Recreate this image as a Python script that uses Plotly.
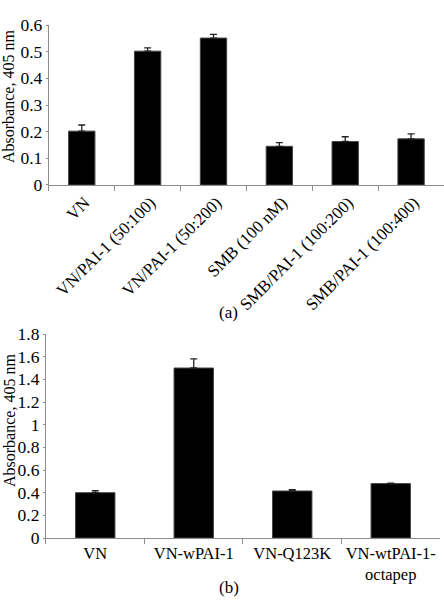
import plotly.graph_objects as go

cats_a = ["VN", "VN/PAI-1 (50:100)", "VN/PAI-1 (50:200)", "SMB (100 nM)",
          "SMB/PAI-1 (100:200)", "SMB/PAI-1 (100:400)"]
vals_a = [0.202, 0.502, 0.551, 0.145, 0.163, 0.173]
err_a = [0.023, 0.012, 0.014, 0.014, 0.018, 0.019]

cats_b = ["VN", "VN-wPAI-1", "VN-Q123K", "VN-wtPAI-1-<br>octapep"]
vals_b = [0.40, 1.50, 0.415, 0.48]
err_b = [0.017, 0.08, 0.012, 0.005]

yticks_a = [0, 0.1, 0.2, 0.3, 0.4, 0.5, 0.6]
yticks_b = [0, 0.2, 0.4, 0.6, 0.8, 1, 1.2, 1.4, 1.6, 1.8]

FONT = "Liberation Serif"
AX = "#8c8c8c"
YTITLE = "Absorbance, 405 nm"

fig = go.Figure()
fig.add_trace(go.Bar(x=cats_a, y=vals_a, xaxis="x", yaxis="y",
                     marker=dict(color="black", line=dict(color="#444", width=1)),
                     error_y=dict(type="data", array=err_a, symmetric=False, arrayminus=[0]*6,
                                  color="#222", thickness=1.3, width=3.5),
                     showlegend=False))
fig.add_trace(go.Bar(x=cats_b, y=vals_b, xaxis="x2", yaxis="y2",
                     marker=dict(color="black", line=dict(color="#444", width=1)),
                     error_y=dict(type="data", array=err_b, symmetric=False, arrayminus=[0]*4,
                                  color="#222", thickness=1.3, width=3.5),
                     showlegend=False))

common_x = dict(showline=True, linecolor=AX, linewidth=1, ticks="outside", tickson="boundaries",
                tickcolor=AX, ticklen=5, showgrid=False, automargin=False)
common_y = dict(showline=True, linecolor=AX, linewidth=1, ticks="outside", tickcolor=AX, ticklen=2,
                showgrid=False, zeroline=False, automargin=False,
                tickfont=dict(family=FONT, size=17.5, color="black"))

ann_font = dict(family=FONT, size=17, color="black")
fig.update_layout(
    width=444, height=600,
    margin=dict(l=0, r=0, t=0, b=0, autoexpand=False),
    paper_bgcolor="white", plot_bgcolor="white",
    bargap=0.6,
    xaxis=dict(domain=[0.110, 1.0], anchor="y", tickangle=-45, ticklabelshift=3,
               tickfont=dict(family=FONT, size=17, color="black"), **common_x),
    yaxis=dict(domain=[0.6917, 0.9583], anchor="x", range=[0, 0.6], tickvals=yticks_a,
               ticktext=[f"{v:g}" for v in yticks_a], **common_y),
    xaxis2=dict(domain=[0.1036, 0.991], anchor="y2", tickangle=0,
                tickfont=dict(family=FONT, size=16.5, color="black"), **common_x),
    yaxis2=dict(domain=[0.1033, 0.4433], anchor="x2", range=[0, 1.8], tickvals=yticks_b,
                ticktext=[f"{v:g}" for v in yticks_b], **common_y),
    annotations=[
        dict(text=YTITLE, textangle=-90, x=9/444, y=1 - 97/600, xref="paper", yref="paper",
             xanchor="center", yanchor="middle", showarrow=False,
             font=dict(family=FONT, size=16, color="black")),
        dict(text=YTITLE, textangle=-90, x=9/444, y=1 - 421/600, xref="paper", yref="paper",
             xanchor="center", yanchor="middle", showarrow=False,
             font=dict(family=FONT, size=16, color="black")),
        dict(text="(a)", x=0.515, y=1 - 313/600, xref="paper", yref="paper", showarrow=False,
             xanchor="center", yanchor="middle", font=ann_font),
        dict(text="(b)", x=0.515, y=1 - 587/600, xref="paper", yref="paper", showarrow=False,
             xanchor="center", yanchor="middle", font=ann_font),
    ],
)

fig.write_html("out.html")
